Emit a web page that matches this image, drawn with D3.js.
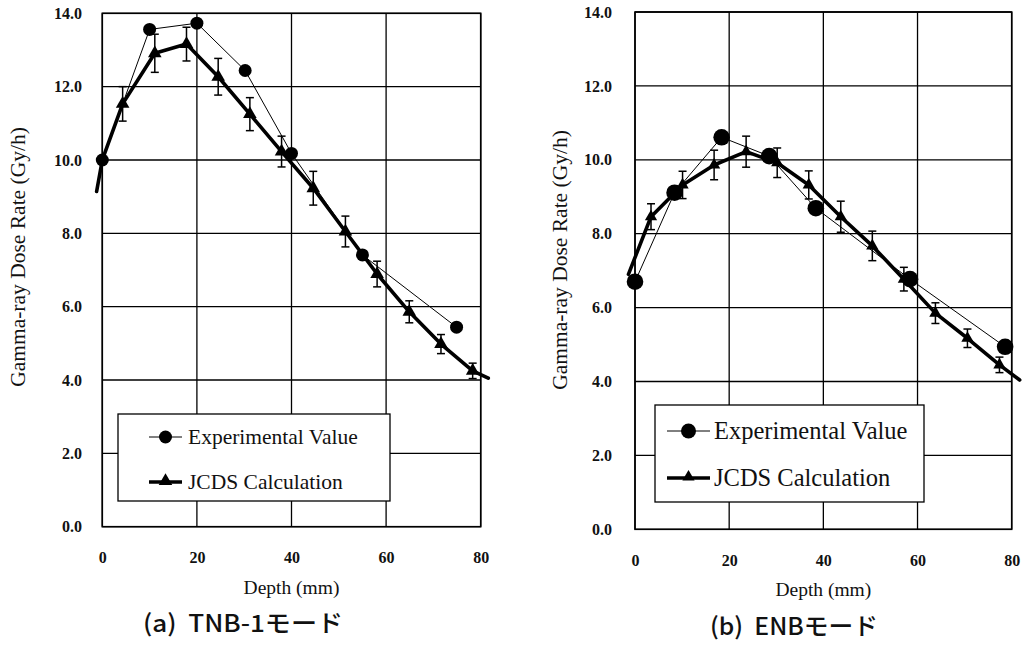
<!DOCTYPE html>
<html>
<head>
<meta charset="utf-8">
<script src="https://cdn.jsdelivr.net/npm/d3@7/dist/d3.min.js"></script>
<style>
  html, body { margin: 0; padding: 0; background: #fff; }
  svg { display: block; font-family: "Liberation Serif", "Times New Roman", serif; }
  .serif { font-family: "Liberation Serif", "Times New Roman", serif !important; }
  .cap { font-family: "Noto Sans CJK JP", "Noto Sans", sans-serif; font-weight: 500; }
</style>
</head>
<body>
<svg id="chart" width="1024" height="649"></svg>
<script>
// ---------- data ----------
const depthTicks = [0, 20, 40, 60, 80];
const doseTicks = [0, 2, 4, 6, 8, 10, 12, 14];
const xTitle = "Depth (mm)";
const yTitle = "Gamma-ray Dose Rate (Gy/h)";
const legendLabels = ["Experimental Value", "JCDS Calculation"];
const captions = ["(a)  TNB-1モード", "(b)  ENBモード"];

// Panel (a) TNB-1
const expA_depth = [0, 10, 20, 30.2, 40, 55, 74.9];
const expA_dose  = [10.0, 13.56, 13.73, 12.44, 10.18, 7.41, 5.44];
const calcA_depth = [-1.2, 0, 4.3, 11.1, 17.8, 24.5, 31.2, 37.9, 44.6, 51.4, 58.1, 64.9, 71.6, 78.3, 81.6];
const calcA_dose  = [9.14, 10.0, 11.53, 12.91, 13.16, 12.27, 11.25, 10.23, 9.23, 8.05, 6.89, 5.86, 4.98, 4.25, 4.05];
const calcA_err   = [null, null, 0.47, 0.52, 0.46, 0.50, 0.45, 0.42, 0.46, 0.42, 0.35, 0.30, 0.26, 0.21, null];

// Panel (b) ENB
const expB_depth = [0, 8.4, 18.4, 28.5, 38.4, 58.4, 78.6];
const expB_dose  = [6.70, 9.11, 10.61, 10.10, 8.69, 6.77, 4.94];
const calcB_depth = [-1.4, 3.4, 10.1, 16.8, 23.6, 30.2, 36.9, 43.7, 50.4, 57.1, 63.8, 70.6, 77.4, 81.7];
const calcB_dose  = [6.90, 8.46, 9.32, 9.86, 10.22, 9.92, 9.32, 8.46, 7.67, 6.77, 5.85, 5.17, 4.45, 4.04];
const calcB_err   = [null, 0.35, 0.37, 0.40, 0.42, 0.40, 0.38, 0.42, 0.40, 0.32, 0.28, 0.25, 0.21, null];

// ---------- layout ----------
const panels = [
  { x0: 102.3, x1: 480.7, y0: 526.7, y1: 13.3,
    exp: d3.zip(expA_depth, expA_dose), calc: d3.zip(calcA_depth, calcA_dose, calcA_err),
    circleR: 6.5, triSize: 80, legend: {x: 118, y: 414, w: 272, h: 87, font: 21.5, r: 6.5, l1: 149, l2: 182, tx: 188, ey: 437, cy: 482},
    yTitleX: 17, yTitleY: 257, yTickX: 82, capX: 143, capY: 632, capW: 200, caption: captions[0] },
  { x0: 635, x1: 1011.7, y0: 529.3, y1: 12,
    exp: d3.zip(expB_depth, expB_dose), calc: d3.zip(calcB_depth, calcB_dose, calcB_err),
    circleR: 8.3, triSize: 65, legend: {x: 655, y: 405, w: 269, h: 97, font: 24.5, r: 7.5, l1: 667, l2: 710, tx: 714, ey: 431, cy: 478},
    yTitleX: 559, yTitleY: 260, yTickX: 612, capX: 710, capY: 635, capW: 168, caption: captions[1] }
];

const svg = d3.select("#chart");

panels.forEach(p => {
  const x = d3.scaleLinear().domain([0, 80]).range([p.x0, p.x1]);
  const y = d3.scaleLinear().domain([0, 14]).range([p.y0, p.y1]);
  const g = svg.append("g");

  // grid
  g.append("g").selectAll("line").data(doseTicks).join("line")
    .attr("x1", p.x0).attr("x2", p.x1)
    .attr("y1", d => y(d)).attr("y2", d => y(d))
    .attr("stroke", "#000").attr("stroke-width", 1.3);
  g.append("g").selectAll("line").data(depthTicks).join("line")
    .attr("y1", p.y0).attr("y2", p.y1)
    .attr("x1", d => x(d)).attr("x2", d => x(d))
    .attr("stroke", "#000").attr("stroke-width", 1.3);
  g.append("rect").attr("x", p.x0).attr("y", p.y1)
    .attr("width", p.x1 - p.x0).attr("height", p.y0 - p.y1)
    .attr("fill", "none").attr("stroke", "#000").attr("stroke-width", 1.6);

  // axes (labels only)
  const ya = g.append("g").attr("transform", `translate(${p.x0},0)`)
    .call(d3.axisLeft(y).tickValues(doseTicks).tickFormat(d3.format(".1f")).tickSize(0).tickPadding(p.x0 - p.yTickX));
  ya.attr("font-family", null);
  ya.select(".domain").remove();
  ya.selectAll("text").attr("class", "serif").attr("font-size", 16).attr("font-weight", "bold").attr("fill", "#111");

  const xa = g.append("g").attr("transform", `translate(0,${p.y0})`)
    .call(d3.axisBottom(x).tickValues(depthTicks).tickFormat(d3.format("d")).tickSize(0).tickPadding(25));
  xa.attr("font-family", null);
  xa.select(".domain").remove();
  xa.selectAll("text").attr("class", "serif").attr("font-size", 16).attr("font-weight", "bold").attr("fill", "#111");

  // axis titles
  g.append("text").attr("class", "serif").attr("x", (p.x0 + p.x1) / 2).attr("y", p.y0 + 67)
    .attr("text-anchor", "middle").attr("font-size", 19.5)
    .attr("fill", "#111").text(xTitle);
  g.append("text").attr("class", "serif")
    .attr("transform", `translate(${p.yTitleX},${p.yTitleY}) rotate(-90)`)
    .attr("text-anchor", "middle").attr("dy", "0.35em")
    .attr("font-size", 21.5).attr("fill", "#111").text(yTitle);

  // caption
  g.append("text").attr("class", "cap").attr("x", p.capX).attr("y", p.capY)
    .attr("font-size", 24)
    .attr("textLength", p.capW).attr("lengthAdjust", "spacingAndGlyphs")
    .style("white-space", "pre")
    .attr("fill", "#111").text(p.caption);

  // JCDS line
  const line = d3.line().x(d => x(d[0])).y(d => y(d[1]));
  g.append("path").datum(p.calc).attr("d", line)
    .attr("fill", "none").attr("stroke", "#000").attr("stroke-width", 3.6)
    .attr("stroke-linejoin", "round").attr("stroke-linecap", "round");

  // experimental line
  g.append("path").datum(p.exp).attr("d", line)
    .attr("fill", "none").attr("stroke", "#000").attr("stroke-width", 1);

  // error bars
  const withErr = p.calc.filter(d => d[2] != null);
  const eb = g.append("g").selectAll("g").data(withErr).join("g");
  eb.append("line").attr("x1", d => x(d[0])).attr("x2", d => x(d[0]))
    .attr("y1", d => y(d[1] - d[2])).attr("y2", d => y(d[1] + d[2]))
    .attr("stroke", "#000").attr("stroke-width", 1.5);
  [-1, 1].forEach(s => {
    eb.append("line").attr("x1", d => x(d[0]) - 4).attr("x2", d => x(d[0]) + 4)
      .attr("y1", d => y(d[1] + s * d[2])).attr("y2", d => y(d[1] + s * d[2]))
      .attr("stroke", "#000").attr("stroke-width", 1.5);
  });

  // triangles
  const tri = d3.symbol().type(d3.symbolTriangle).size(p.triSize);
  g.append("g").selectAll("path").data(withErr).join("path")
    .attr("d", tri).attr("transform", d => `translate(${x(d[0])},${y(d[1])})`)
    .attr("fill", "#000");

  // circles
  g.append("g").selectAll("circle").data(p.exp).join("circle")
    .attr("cx", d => x(d[0])).attr("cy", d => y(d[1])).attr("r", p.circleR)
    .attr("fill", "#000");

  // legend
  const L = p.legend;
  const lg = g.append("g");
  lg.append("rect").attr("x", L.x).attr("y", L.y).attr("width", L.w).attr("height", L.h)
    .attr("fill", "#fff").attr("stroke", "#000").attr("stroke-width", 1.3);
  lg.append("line").attr("x1", L.l1).attr("x2", L.l2).attr("y1", L.ey).attr("y2", L.ey)
    .attr("stroke", "#000").attr("stroke-width", 1);
  lg.append("circle").attr("cx", (L.l1 + L.l2) / 2).attr("cy", L.ey).attr("r", L.r).attr("fill", "#000");
  lg.append("line").attr("x1", L.l1).attr("x2", L.l2).attr("y1", L.cy).attr("y2", L.cy)
    .attr("stroke", "#000").attr("stroke-width", 3.6);
  lg.append("path").attr("d", tri).attr("transform", `translate(${(L.l1 + L.l2) / 2},${L.cy - 1})`).attr("fill", "#000");
  lg.selectAll("text.lbl").data(legendLabels).join("text").attr("class", "lbl serif")
    .attr("x", L.tx).attr("y", (d, i) => (i === 0 ? L.ey : L.cy))
    .attr("dy", "0.33em").attr("font-size", L.font)
    .attr("fill", "#111").text(d => d);
});
</script>
</body>
</html>
